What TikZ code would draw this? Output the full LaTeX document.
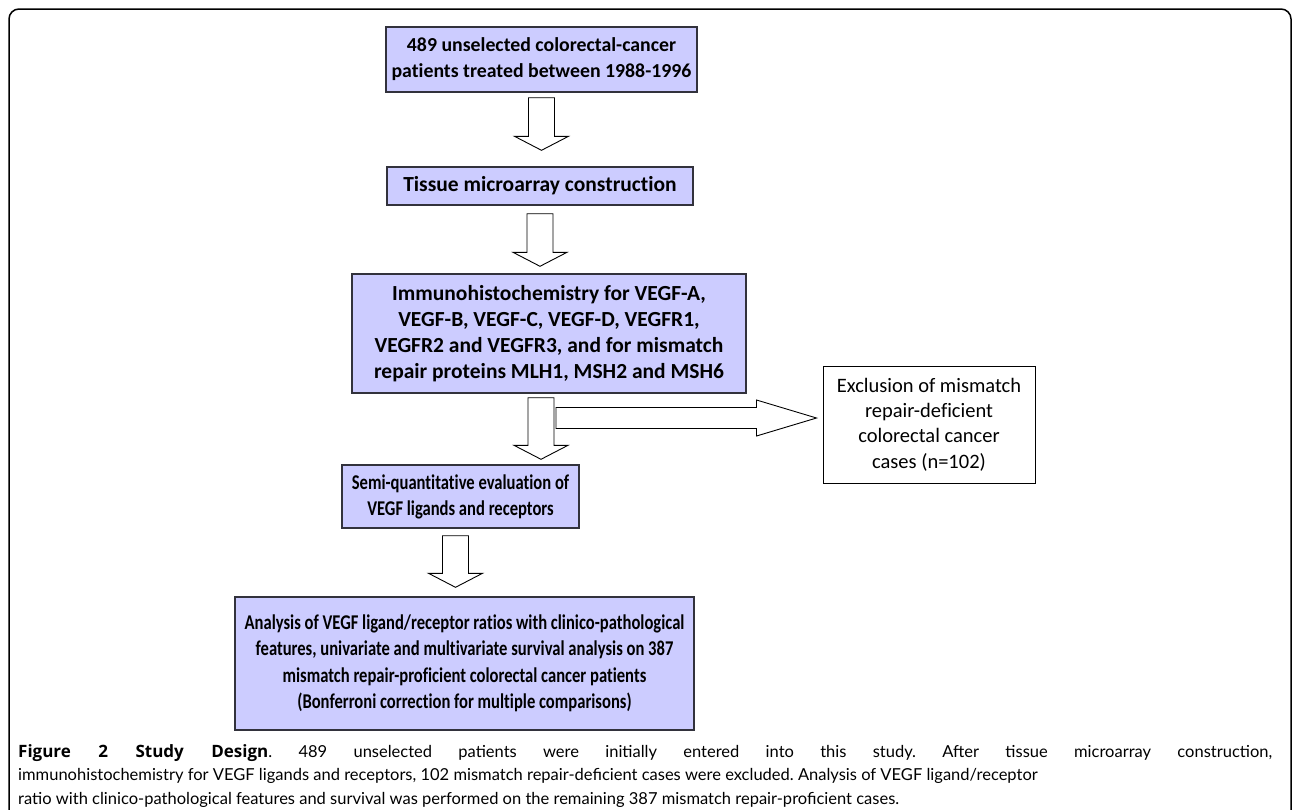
\documentclass[tikz,border=0pt]{standalone}
\usepackage{fontspec}
\setmainfont[Ligatures=NoCommon]{Carlito}
\newfontfamily\squeezed[FakeStretch=0.79,Ligatures=NoCommon]{Carlito}
\newfontfamily\capfont{Lato}
\newfontfamily\capbold{Open Sans}
\usetikzlibrary{calc}

\definecolor{boxfill}{RGB}{204,204,255}
\definecolor{boxline}{RGB}{50,50,60}

\begin{document}
\begin{tikzpicture}[
    x=1pt, y=-1pt,
    box/.style={draw=boxline, line width=1.4pt, fill=boxfill, inner sep=0pt, align=center,
      font=\bfseries\fontsize{21.5}{26}\selectfont},
    squeezebox/.style={box, font=\squeezed\bfseries\fontsize{21}{26}\selectfont},
    note/.style={draw, line width=1pt, fill=white, inner sep=0pt, align=center,
      font=\fontsize{20.5}{25.3}\selectfont},
    fatdown/.style={draw, line width=0.9pt, fill=white,
      to path={let \p1=(\tikztostart), \p2=(\tikztotarget) in
        (\x1-13pt,\y1) -- (\x1+13pt,\y1) -- (\x1+13pt,\y2+14pt) -- (\x1+27pt,\y2+14pt)
        -- (\x1,\y2) -- (\x1-27pt,\y2+14pt) -- (\x1-13pt,\y2+14pt) -- cycle}},
    fatright/.style={draw, line width=0.9pt, fill=white,
      to path={let \p1=(\tikztostart), \p2=(\tikztotarget) in
        (\x1,\y1+10.5pt) -- (\x2-60pt,\y1+10.5pt) -- (\x2-60pt,\y1+18pt) -- (\x2,\y1)
        -- (\x2-60pt,\y1-18pt) -- (\x2-60pt,\y1-10.5pt) -- (\x1,\y1-10.5pt) -- cycle}}
  ]
  \useasboundingbox (0,0) rectangle (1292,809);
  \clip (0,0) rectangle (1292,809);

  % outer frame, cut by the page on the right and at the bottom
  \draw[line width=1.5pt, rounded corners=10pt] (9,9) rectangle (1291,840);

  % main column
  \node[box, minimum width=311pt, minimum height=65pt, font=\bfseries\fontsize{19.8}{26}\selectfont] (patients) at (541.5,59.5)
    {489 unselected colorectal-cancer\\patients treated between 1988-1996};
  \node[box, minimum width=306pt, minimum height=38pt] (tma) at (540,186)
    {Tissue microarray construction};
  \node[box, minimum width=394pt, minimum height=119pt] (ihc) at (549,333.5)
    {Immunohistochemistry for VEGF-A,\\VEGF-B, VEGF-C, VEGF-D, VEGFR1,\\VEGFR2 and VEGFR3, and for mismatch\\repair proteins MLH1, MSH2 and MSH6};
  \node[squeezebox, minimum width=237pt, minimum height=63pt] (scoring) at (460.5,496.5)
    {Semi-quantitative evaluation of\\VEGF ligands and receptors};
  \node[squeezebox, minimum width=459pt, minimum height=133pt, font=\squeezed\bfseries\fontsize{21}{26.5}\selectfont] (analysis) at (464.5,663.5)
    {Analysis of VEGF ligand/receptor ratios with clinico-pathological\\features, univariate and multivariate survival analysis on 387\\mismatch repair-proficient colorectal cancer patients\\(Bonferroni correction for multiple comparisons)};

  % side branch
  \node[note, minimum width=212pt, minimum height=117pt] (excluded) at (929,424.5)
    {Exclusion of mismatch\\repair-deficient\\colorectal cancer\\cases (n=102)};
  \coordinate (split) at (556,418);

  % block arrows
  \draw[fatdown] ([yshift=-5pt]patients.south) to ([yshift=16pt]tma.north);
  \draw[fatdown] ([yshift=-8pt]tma.south) to ([yshift=7pt]ihc.north);
  \draw[fatdown] ([xshift=-8pt,yshift=-4pt]ihc.south) to ([yshift=5pt]scoring.north);
  \draw[fatright] (split) to ([xshift=-6pt]excluded.west);
  \draw[fatdown] ([xshift=-5pt,yshift=-7pt]scoring.south) to ([yshift=9pt]analysis.north);

  % caption
  \node[anchor=north west, inner sep=0pt, text width=1254pt, align=justify,
    font=\capfont\fontsize{16.5}{23.5}\selectfont\frenchspacing] (caption) at (18,744)
    {{\capbold\bfseries\fontsize{17}{23.5}\selectfont Figure 2 Study Design}. 489 unselected patients were initially entered into this study. After tissue microarray construction,\linebreak
    immunohistochemistry for VEGF ligands and receptors, 102 mismatch repair-deficient cases were excluded. Analysis of VEGF ligand/receptor\newline
    ratio with clinico-pathological features and survival was performed on the remaining 387 mismatch repair-proficient cases.};
\end{tikzpicture}
\end{document}
